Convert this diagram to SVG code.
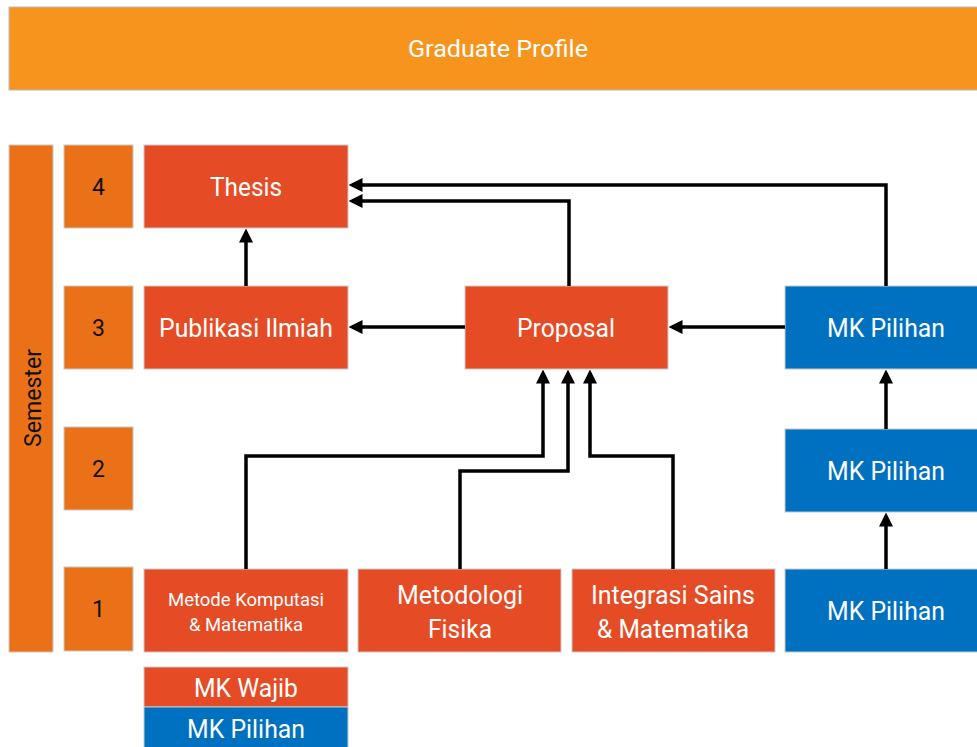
<svg xmlns="http://www.w3.org/2000/svg" width="977" height="747" viewBox="0 0 977 747">
<defs>
<style>
.r{fill:#E54B25;stroke:#c9c9c9;stroke-width:1}
.b{fill:#0071C1;stroke:#c9c9c9;stroke-width:1}
.o{fill:#EA7117;stroke:#c9c9c9;stroke-width:1}
.t{font-family:Roboto,"Liberation Sans",sans-serif;fill:#fff;text-anchor:middle;dominant-baseline:central}
.n{font-family:Roboto,"Liberation Sans",sans-serif;fill:#111;text-anchor:middle;dominant-baseline:central;font-size:23px}
.c{fill:none;stroke:#000;stroke-width:3.5;marker-end:url(#ah)}
</style>
<marker id="ah" markerWidth="4" markerHeight="4" refX="3" refY="2" orient="auto" markerUnits="strokeWidth">
<path d="M0,0 L4,2 L0,4 z" fill="#000"/>
</marker>
</defs>
<g id="graduate-profile">
<rect x="9" y="7" width="970" height="83" fill="#F7941E" stroke="#bbb" stroke-width="1"/>
<text class="t" x="498" y="49" font-size="24" textLength="180" lengthAdjust="spacingAndGlyphs">Graduate Profile</text>
</g>
<g id="semester">
<rect class="o" x="9" y="145" width="44" height="507"/>
<text class="t" x="0" y="0" font-size="23" transform="translate(33,398) rotate(-90)" textLength="98" lengthAdjust="spacingAndGlyphs" style="fill:#111">Semester</text>
</g>
<g id="sem4"><rect class="o" x="64" y="145" width="69" height="83"/><text class="n" x="98.5" y="187">4</text></g>
<g id="sem3"><rect class="o" x="64" y="286" width="69" height="83"/><text class="n" x="98.5" y="328">3</text></g>
<g id="sem2"><rect class="o" x="64" y="427" width="69" height="83"/><text class="n" x="98.5" y="469">2</text></g>
<g id="sem1"><rect class="o" x="64" y="567" width="69" height="84"/><text class="n" x="98.5" y="609">1</text></g>
<g id="thesis"><rect class="r" x="144" y="145" width="204" height="83"/><text class="t" x="246" y="187" font-size="25" textLength="72" lengthAdjust="spacingAndGlyphs">Thesis</text></g>
<g id="publikasi"><rect class="r" x="144" y="286" width="204" height="83"/><text class="t" x="246" y="328" font-size="25" textLength="174" lengthAdjust="spacingAndGlyphs">Publikasi Ilmiah</text></g>
<g id="proposal"><rect class="r" x="465" y="286" width="203" height="83"/><text class="t" x="566" y="328" font-size="25" textLength="98" lengthAdjust="spacingAndGlyphs">Proposal</text></g>
<g id="mkpilihan3"><rect class="b" x="785" y="286" width="195" height="83"/><text class="t" x="886" y="328" font-size="25" textLength="118" lengthAdjust="spacingAndGlyphs">MK Pilihan</text></g>
<g id="mkpilihan2"><rect class="b" x="785" y="429" width="195" height="83"/><text class="t" x="886" y="471" font-size="25" textLength="118" lengthAdjust="spacingAndGlyphs">MK Pilihan</text></g>
<g id="mkpilihan1"><rect class="b" x="785" y="569" width="195" height="83"/><text class="t" x="886" y="611" font-size="25" textLength="118" lengthAdjust="spacingAndGlyphs">MK Pilihan</text></g>
<g id="metode"><rect class="r" x="144" y="569" width="204" height="83"/>
<text class="t" x="246" y="599" font-size="18" textLength="156" lengthAdjust="spacingAndGlyphs">Metode Komputasi</text>
<text class="t" x="246" y="624" font-size="18" textLength="114" lengthAdjust="spacingAndGlyphs">&amp; Matematika</text></g>
<g id="metodologi"><rect class="r" x="358" y="569" width="203" height="83"/>
<text class="t" x="460" y="595" font-size="25" textLength="126" lengthAdjust="spacingAndGlyphs">Metodologi</text>
<text class="t" x="460" y="629" font-size="25" textLength="64" lengthAdjust="spacingAndGlyphs">Fisika</text></g>
<g id="integrasi"><rect class="r" x="572" y="569" width="203" height="83"/>
<text class="t" x="673" y="595" font-size="25" textLength="164" lengthAdjust="spacingAndGlyphs">Integrasi Sains</text>
<text class="t" x="673" y="629" font-size="25" textLength="152" lengthAdjust="spacingAndGlyphs">&amp; Matematika</text></g>
<g id="legend-wajib"><rect class="r" x="144" y="667" width="204" height="40"/><text class="t" x="246" y="688" font-size="25" textLength="104" lengthAdjust="spacingAndGlyphs">MK Wajib</text></g>
<g id="legend-pilihan"><rect class="b" x="144" y="707" width="204" height="42"/><text class="t" x="246" y="729" font-size="25" textLength="118" lengthAdjust="spacingAndGlyphs">MK Pilihan</text></g>
<g id="connectors">
<path class="c" d="M246,286 V232"/>
<path class="c" d="M886,286 V185 H352"/>
<path class="c" d="M569,286 V201 H352"/>
<path class="c" d="M465,327 H352"/>
<path class="c" d="M785,327 H672"/>
<path class="c" d="M246,569 V456 H543 V373"/>
<path class="c" d="M460,569 V471 H568 V373"/>
<path class="c" d="M673,569 V456 H590 V373"/>
<path class="c" d="M886,569 V516"/>
<path class="c" d="M886,429 V373"/>
</g>
</svg>
